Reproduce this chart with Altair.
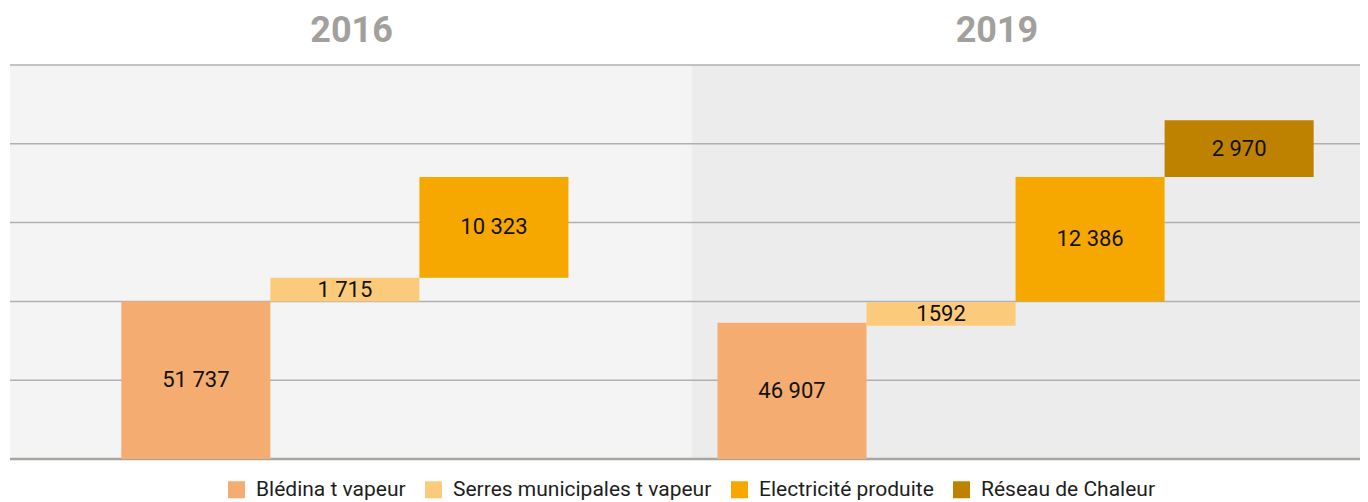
import altair as alt
import pandas as pd

# ---- data ----
years = ["2016", "2016", "2016", "2019", "2019", "2019", "2019"]
categories = ["Blédina t vapeur", "Serres municipales t vapeur", "Electricité produite",
              "Blédina t vapeur", "Serres municipales t vapeur", "Electricité produite",
              "Réseau de Chaleur"]
values = [51737, 1715, 10323, 46907, 1592, 12386, 2970]
value_labels = ["51 737", "1 715", "10 323", "46 907", "1592", "12 386", "2 970"]
# bar slot along the x axis (one slot per step of the waterfall)
slots = [0, 1, 2, 4, 5, 6, 7]
# drawn extent of each step on the (unlabelled) vertical axis, in gridline units
step_start = [0.0, 2.0, 2.30, 0.0, 1.69, 2.0, 3.58]
step_end = [2.0, 2.30, 3.58, 1.73, 1.99, 3.58, 4.30]

legend_order = ["Blédina t vapeur", "Serres municipales t vapeur",
                "Electricité produite", "Réseau de Chaleur"]
legend_colors = ["#F4AC70", "#FCCA7B", "#F6A800", "#BF8200"]

panel_years = ["2016", "2019"]
grid_levels = [0, 1, 2, 3, 4, 5]

# ---- layout (not data) ----
X_MIN, X_SPLIT, X_MAX = -0.747, 3.829, 8.311
TITLE_X = [1.545, 5.875]
PANEL_FILL = ["#F4F4F4", "#ECECEC"]

bars = pd.DataFrame({
    "year": years, "category": categories, "value": values,
    "label": value_labels, "slot": slots,
    "y0": step_start, "y1": step_end,
})
bars["x0"] = bars["slot"]
bars["x1"] = bars["slot"] + 1
bars["xm"] = bars["slot"] + 0.5
bars["ym"] = (bars["y0"] + bars["y1"]) / 2

x_scale = alt.Scale(domain=[X_MIN, X_MAX], nice=False, zero=False)
y_scale = alt.Scale(domain=[0, 5], nice=False, zero=False)

panels = []
bounds = [(X_MIN, X_SPLIT), (X_SPLIT, X_MAX)]
for yr, (a, b), fill in zip(panel_years, bounds, PANEL_FILL):
    df = pd.DataFrame({"year": [yr], "x0": [a], "x1": [b], "y0": [0], "y1": [5]})
    panels.append(
        alt.Chart(df).mark_rect(color=fill).encode(
            x=alt.X("x0:Q", scale=x_scale, axis=None), x2="x1:Q",
            y=alt.Y("y0:Q", scale=y_scale, axis=None), y2="y1:Q",
        )
    )

grid = alt.Chart(pd.DataFrame({"y": grid_levels[1:]})).mark_rule(
    color="#B2B0AE", strokeWidth=1.5
).encode(y=alt.Y("y:Q", scale=y_scale, axis=None))

baseline = alt.Chart(pd.DataFrame({"y": grid_levels[:1]})).mark_rule(
    color="#A8A4A0", strokeWidth=2.5
).encode(y=alt.Y("y:Q", scale=y_scale, axis=None))

rects = alt.Chart(bars).mark_rect().encode(
    x=alt.X("x0:Q", scale=x_scale, axis=None), x2="x1:Q",
    y=alt.Y("y0:Q", scale=y_scale, axis=None), y2="y1:Q",
    color=alt.Color(
        "category:N",
        scale=alt.Scale(domain=legend_order, range=legend_colors),
        legend=alt.Legend(
            orient="none", legendX=216, legendY=414, direction="horizontal",
            columns=4, title=None, symbolType="square", symbolSize=289,
            symbolStrokeWidth=0, labelFont="Roboto", labelFontSize=21,
            labelColor="#1E1E1E", labelOffset=9, columnPadding=17,
            labelLimit=400, padding=0,
        ),
    ),
)

texts = alt.Chart(bars).mark_text(
    font="Roboto", fontSize=22, color="#111111", baseline="middle", align="center"
).encode(
    x=alt.X("xm:Q", scale=x_scale, axis=None),
    y=alt.Y("ym:Q", scale=y_scale, axis=None),
    text="label:N",
)

titles = alt.Chart(pd.DataFrame({"year": panel_years, "x": TITLE_X})).mark_text(
    font="Roboto", fontWeight="bold", fontSize=36, color="#A39F9C",
    baseline="middle", align="center",
).encode(
    x=alt.X("x:Q", scale=x_scale, axis=None),
    y=alt.value(-34),
    text="year:N",
)

chart = alt.layer(*panels, grid, baseline, rects, texts, titles).properties(
    width=1350, height=394,
    autosize=alt.AutoSizeParams(type="none"),
    padding={"left": 2, "top": 57, "right": 0, "bottom": 43},
    background="white",
).configure_view(stroke=None)

chart.save("out.html", embed_options={"renderer": "svg", "actions": False})
